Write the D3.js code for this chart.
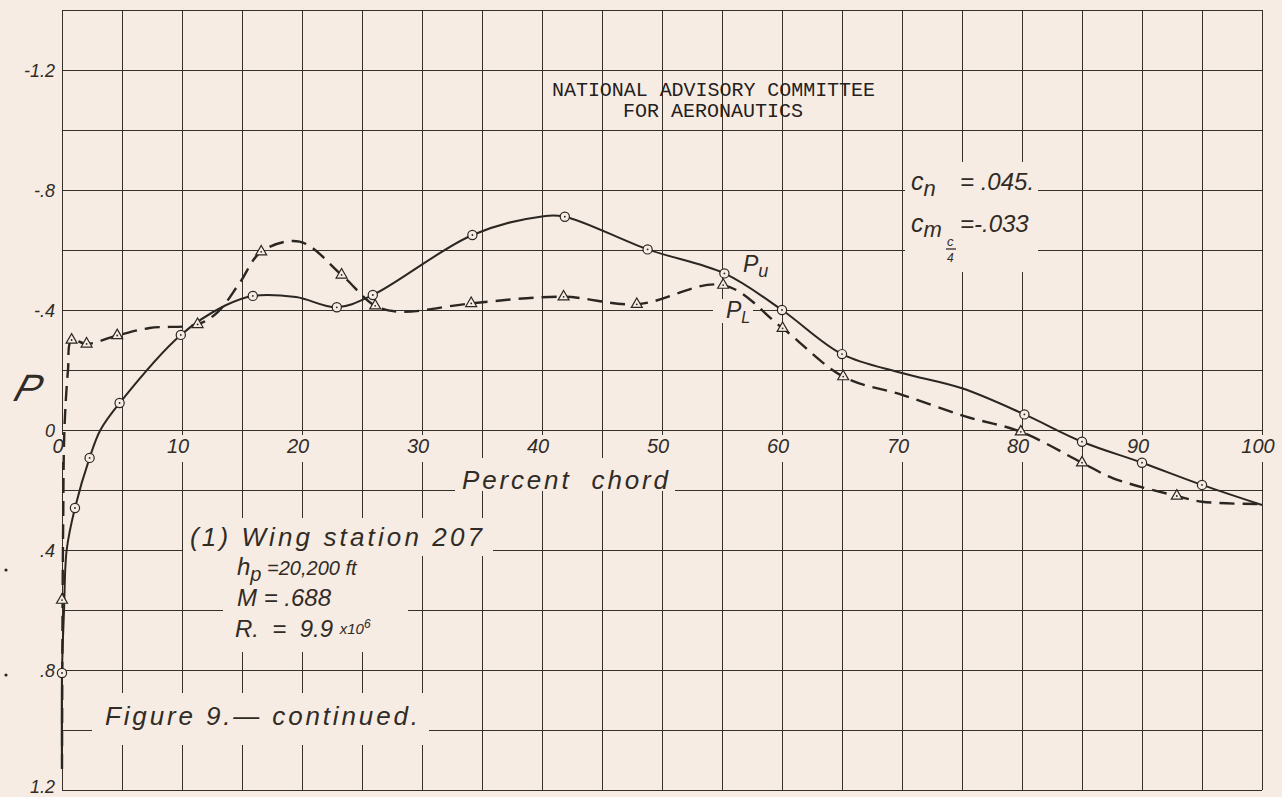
<html>
<head>
<script src="https://d3js.org/d3.v7.min.js"></script>
<style>
body { margin: 0; background: #f6ece3; }
svg { display: block; }
.grid line { stroke: #37312c; stroke-width: 1.3; shape-rendering: crispEdges; }
.grid path { display: none; }
.mask { fill: #f6ece3; }
.hand { font-family: "Liberation Sans", "DejaVu Sans", sans-serif; font-style: italic; fill: #312b26; white-space: pre; }
.type { font-family: "Liberation Mono", "DejaVu Sans Mono", monospace; fill: #25201c; }
.upper { fill: none; stroke: #2b2622; stroke-width: 2; }
.lower { fill: none; stroke: #2b2622; stroke-width: 2.4; stroke-dasharray: 15,8; }
.mark { fill: #f6ece3; stroke: #2b2622; stroke-width: 1.2; }
.dot { fill: #2b2622; }
</style>
</head>
<body>
<svg width="1282" height="797"></svg>
<script>

// upper surface orifices (circles)
var upperX = [0, 1.08, 2.3, 4.8, 9.9, 15.9, 22.9, 25.9, 34.2, 41.9, 48.8, 55.2, 60, 65, 80.2, 85, 90, 95];
var upperP = [0.81, 0.26, 0.093, -0.09, -0.317, -0.447, -0.409, -0.45, -0.65, -0.711, -0.602, -0.522, -0.40, -0.253, -0.052, 0.039, 0.109, 0.183];

// lower surface orifices (triangles)
var lowerX = [0, 0.8, 2.05, 4.6, 11.3, 16.6, 23.3, 26.1, 34.1, 41.8, 47.9, 55.1, 60.05, 65.1, 79.9, 85, 92.9];
var lowerP = [0.567, -0.3, -0.287, -0.315, -0.352, -0.594, -0.517, -0.414, -0.422, -0.444, -0.419, -0.483, -0.339, -0.178, 0.006, 0.109, 0.22];

// faired curves as drawn on the sheet
var upperLineX = [0, 0, 0.17, 0.39, 1.08, 2.3, 3.2, 4.8, 9.9, 13.6, 15.9, 19.5, 22.9, 25.9, 34.2, 40, 41.9, 48.8, 55.2, 60, 65, 70, 75, 80.2, 85, 90, 95, 100];
var upperLineP = [1.13, 0.81, 0.6, 0.4, 0.26, 0.093, 0, -0.09, -0.317, -0.415, -0.447, -0.443, -0.409, -0.45, -0.65, -0.712, -0.711, -0.602, -0.522, -0.40, -0.253, -0.19, -0.139, -0.052, 0.039, 0.109, 0.183, 0.25];
var lowerLineX = [0, 0.05, 0.1, 0.2, 0.5, 0.8, 2.05, 4.6, 7.3, 11.3, 13, 14.8, 16.6, 19.8, 23.3, 26.1, 28.2, 34.1, 41.8, 47.9, 55.1, 60.05, 65.1, 70, 75.4, 79.9, 85, 87.6, 92.9, 95, 100];
var lowerLineP = [1.13, 0.567, 0.3, 0, -0.2, -0.3, -0.287, -0.315, -0.34, -0.352, -0.394, -0.49, -0.594, -0.628, -0.517, -0.414, -0.394, -0.422, -0.444, -0.419, -0.483, -0.339, -0.178, -0.117, -0.044, 0.006, 0.109, 0.161, 0.22, 0.239, 0.247];

var xTicks = [0, 10, 20, 30, 40, 50, 60, 70, 80, 90, 100];
var yTicks = [-1.2, -0.8, -0.4, 0, 0.4, 0.8, 1.2];
var yTickLabels = ["-1.2", "-.8", "-.4", "0", ".4", ".8", "1.2"];

var svg = d3.select("svg"),
    margin = {top: 10, right: 20, bottom: 7, left: 62},
    width = +svg.attr("width") - margin.left - margin.right,
    height = +svg.attr("height") - margin.top - margin.bottom;

var x = d3.scaleLinear().domain([0, 100]).range([margin.left, margin.left + width]),
    y = d3.scaleLinear().domain([-1.4, 1.2]).range([margin.top, margin.top + height]);

function pts(xs, ps) {
  return xs.map(function(v, i) { return [v, ps[i]]; });
}

// graph paper
svg.append("g")
    .attr("class", "grid")
    .attr("transform", "translate(0," + (margin.top + height) + ")")
    .call(d3.axisBottom(x).tickValues(d3.range(0, 21).map(function(k) { return k * 5; }))
        .tickSize(-height).tickFormat(""));
svg.append("g")
    .attr("class", "grid")
    .attr("transform", "translate(" + margin.left + ",0)")
    .call(d3.axisLeft(y).tickValues(d3.range(-7, 7).map(function(k) { return k * 0.2; }))
        .tickSize(-width).tickFormat(""));

// gaps in the ruling where lettering was put on
var masks = [
  [183, 518, 310, 38],
  [223, 556, 185, 96],
  [92, 693, 337, 52],
  [905, 162, 133, 110],
  [455, 458, 220, 33],
  [713, 299, 40, 24]
];
svg.selectAll(".mask.box")
    .data(masks)
  .enter().append("rect")
    .attr("class", "mask box")
    .attr("x", function(d) { return d[0]; })
    .attr("y", function(d) { return d[1]; })
    .attr("width", function(d) { return d[2]; })
    .attr("height", function(d) { return d[3]; });

svg.selectAll(".mask.tick")
    .data(xTicks)
  .enter().append("rect")
    .attr("class", "mask tick")
    .attr("x", function(d) { return x(d) - (d == 100 ? 22 : 16); })
    .attr("y", y(0) + 5)
    .attr("width", function(d) { return d == 100 ? 40 : 28; })
    .attr("height", 27);

// curves
var line = d3.line()
    .curve(d3.curveCatmullRom.alpha(0.5))
    .x(function(d) { return x(d[0]); })
    .y(function(d) { return y(d[1]); });

svg.append("path")
    .datum(pts(lowerLineX, lowerLineP))
    .attr("class", "lower")
    .attr("d", line);

svg.append("path")
    .datum(pts(upperLineX, upperLineP))
    .attr("class", "upper")
    .attr("d", line);

// symbols
var tri = d3.symbol().type(d3.symbolTriangle).size(52);

svg.selectAll(".tri")
    .data(pts(lowerX, lowerP))
  .enter().append("path")
    .attr("class", "mark tri")
    .attr("d", tri)
    .attr("transform", function(d) { return "translate(" + x(d[0]) + "," + y(d[1]) + ")"; });

svg.selectAll(".circ")
    .data(pts(upperX, upperP))
  .enter().append("circle")
    .attr("class", "mark circ")
    .attr("r", 4.6)
    .attr("cx", function(d) { return x(d[0]); })
    .attr("cy", function(d) { return y(d[1]); });

svg.selectAll(".dot")
    .data(pts(upperX, upperP).concat(pts(lowerX, lowerP)))
  .enter().append("circle")
    .attr("class", "dot")
    .attr("r", 0.9)
    .attr("cx", function(d) { return x(d[0]); })
    .attr("cy", function(d) { return y(d[1]); });

// axis lettering
svg.selectAll(".xlab")
    .data(xTicks)
  .enter().append("text")
    .attr("class", "hand xlab")
    .attr("x", function(d) { return x(d) - 4; })
    .attr("y", y(0) + 23)
    .attr("text-anchor", "middle")
    .style("font-size", "20px")
    .text(function(d) { return d; });

svg.selectAll(".ylab")
    .data(yTicks)
  .enter().append("text")
    .attr("class", "hand ylab")
    .attr("x", 55)
    .attr("y", function(d) { return Math.min(y(d) + 7, 793); })
    .attr("text-anchor", "end")
    .style("font-size", "18px")
    .text(function(d, i) { return yTickLabels[i]; });

svg.append("text")
    .attr("class", "hand")
    .attr("transform", "translate(12,401) skewX(-18)")
    .style("font-size", "38px")
    .text("P");

svg.append("text")
    .attr("class", "hand")
    .attr("x", 462)
    .attr("y", 489)
    .attr("textLength", 206)
    .style("font-size", "26px")
    .text("Percent  chord");

// title
svg.append("text")
    .attr("class", "type")
    .attr("x", 552).attr("y", 96)
    .attr("textLength", 323)
    .style("font-size", "20px")
    .text("NATIONAL ADVISORY COMMITTEE");
svg.append("text")
    .attr("class", "type")
    .attr("x", 623).attr("y", 117)
    .attr("textLength", 180)
    .style("font-size", "20px")
    .text("FOR AERONAUTICS");

// coefficients
var cn = svg.append("text").attr("class", "hand").attr("x", 911).attr("y", 190).style("font-size", "25px");
cn.append("tspan").text("c");
cn.append("tspan").attr("dy", 6).style("font-size", "22px").text("n");
svg.append("text").attr("class", "hand").attr("x", 960).attr("y", 190)
    .style("font-size", "24px").text("= .045.");

var cm = svg.append("text").attr("class", "hand").attr("x", 911).attr("y", 232).style("font-size", "25px");
cm.append("tspan").text("c");
cm.append("tspan").attr("dy", 5).style("font-size", "22px").text("m");
svg.append("text").attr("class", "hand").attr("x", 947).attr("y", 246)
    .style("font-size", "13px").text("c");
svg.append("line").attr("x1", 946).attr("x2", 956).attr("y1", 249).attr("y2", 249)
    .attr("stroke", "#312b26").attr("stroke-width", 1.3);
svg.append("text").attr("class", "hand").attr("x", 947).attr("y", 262)
    .style("font-size", "12px").text("4");
svg.append("text").attr("class", "hand").attr("x", 960).attr("y", 232)
    .style("font-size", "24px").text("=-.033");

// curve labels
var pu = svg.append("text").attr("class", "hand").attr("x", 743).attr("y", 272).style("font-size", "23px");
pu.append("tspan").text("P");
pu.append("tspan").attr("dy", 5).style("font-size", "18px").text("u");
var pl = svg.append("text").attr("class", "hand").attr("x", 726).attr("y", 318).style("font-size", "23px");
pl.append("tspan").text("P");
pl.append("tspan").attr("dy", 5).style("font-size", "16px").text("L");

// test conditions
svg.append("text").attr("class", "hand").attr("x", 190).attr("y", 546)
    .attr("textLength", 292).style("font-size", "26px").text("(1) Wing station 207");

var hp = svg.append("text").attr("class", "hand").attr("x", 237).attr("y", 575).style("font-size", "24px");
hp.append("tspan").text("h");
hp.append("tspan").attr("dy", 6).style("font-size", "20px").text("p");
hp.append("tspan").attr("dy", -6).style("font-size", "20px").text(" =20,200 ft");

svg.append("text").attr("class", "hand").attr("x", 237).attr("y", 606)
    .style("font-size", "24px").text("M = .688");

var re = svg.append("text").attr("class", "hand").attr("x", 235).attr("y", 637).style("font-size", "24px");
re.append("tspan").text("R.  =  9.9 ");
re.append("tspan").style("font-size", "15px").attr("dy", -3).text("x10");
re.append("tspan").style("font-size", "12px").attr("dy", -6).text("6");

svg.append("text").attr("class", "hand").attr("x", 105).attr("y", 725)
    .attr("textLength", 313).style("font-size", "26px").text("Figure 9.\u2014 continued.");

// binder marks in the margin
svg.selectAll(".punch")
    .data([570, 675])
  .enter().append("circle")
    .attr("class", "dot punch")
    .attr("cx", 6)
    .attr("cy", function(d) { return d; })
    .attr("r", 1.6);

</script>
</body>
</html>
